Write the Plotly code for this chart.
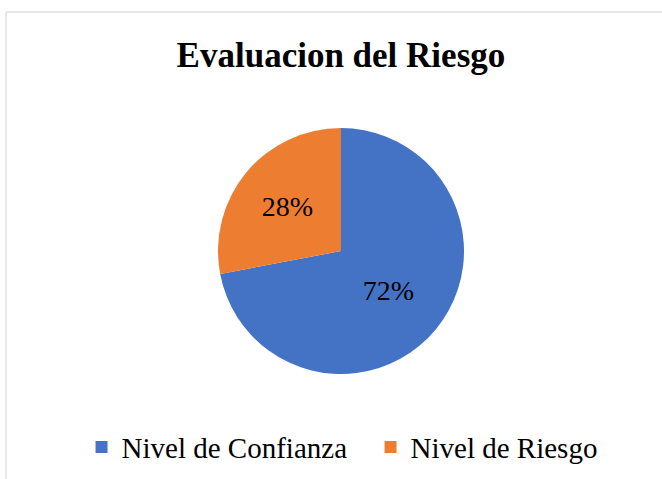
import plotly.graph_objects as go

labels = ["Nivel de Confianza", "Nivel de Riesgo"]
values = [72, 28]
colors = ["#4472C4", "#ED7D31"]

fig = go.Figure(go.Pie(
    labels=labels, values=values, sort=False, direction="clockwise",
    marker=dict(colors=colors, line=dict(width=0)),
    textinfo="percent", texttemplate="%{percent:.0%}",
    textposition="inside", insidetextorientation="horizontal",
    textfont=dict(family="Liberation Serif", size=28, color="black"),
))

# light frame around the chart area (partly cut off like the original)
fig.add_shape(type="rect", xref="paper", yref="paper",
              x0=-0.0218, x1=1.2, y0=-1.0, y1=1.4715,
              line=dict(color="#dde2e9", width=1.5), layer="below")

fig.update_layout(
    width=662, height=479,
    font=dict(family="Liberation Serif", color="black"),
    paper_bgcolor="white", plot_bgcolor="white",
    margin=dict(l=20, r=0, t=128, b=105),
    title=dict(text="<b>Evaluacion del Riesgo</b>", x=0.515, xanchor="center",
               y=0.885, yanchor="middle",
               font=dict(family="Liberation Serif", size=35, color="black")),
    showlegend=True,
    legend=dict(orientation="h", x=0.546, xanchor="center", y=-0.297, yanchor="middle",
                font=dict(family="Liberation Serif", size=29, color="black"),
                entrywidth=244, traceorder="normal"),
)

fig.write_html("out.html", config={"displayModeBar": False},
               post_script="document.body.style.margin='0';")
